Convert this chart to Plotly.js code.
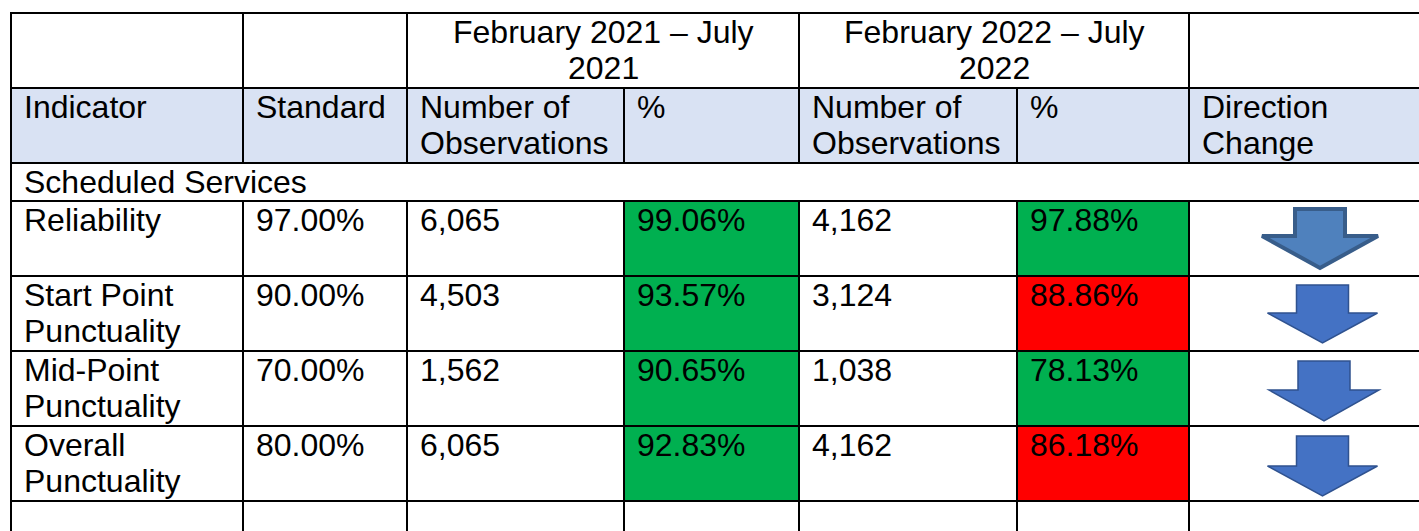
<!DOCTYPE html>
<html><head><meta charset="utf-8">
<script src="https://cdn.plot.ly/plotly-3.0.1.min.js"></script>
<style>html,body{margin:0;padding:0;background:#fff;overflow:hidden}</style>
</head><body><div id="chart" style="width:1419px;height:531px"></div>
<script>
// ---------------- data ----------------
const periodLabels = ["February 2021 – July<br>2021", "February 2022 – July<br>2022"];
const columnHeaders = ["Indicator", "Standard", "Number of<br>Observations", "%", "Number of<br>Observations", "%", "Direction<br>Change"];
const sectionLabel = "Scheduled Services";
const indicators = ["Reliability", "Start Point<br>Punctuality", "Mid-Point<br>Punctuality", "Overall<br>Punctuality"];
const standards = [97.00, 90.00, 70.00, 80.00];
const observations2021 = [6065, 4503, 1562, 6065];
const percent2021 = [99.06, 93.57, 90.65, 92.83];
const observations2022 = [4162, 3124, 1038, 4162];
const percent2022 = [97.88, 88.86, 78.13, 86.18];
// RAG status shown in the source (true = green, false = red)
const status2021 = [true, true, true, true];
const status2022 = [true, false, true, false];

// ---------------- layout / style ----------------
const W = 1419, H = 531;
const colEdges = [11, 243, 407, 624, 799, 1017, 1189, 1440];
const rowEdges = [13, 88, 163, 201, 276, 351, 426, 501, 560];
const FONT = {family: "Liberation Sans, Arial, sans-serif", size: 32, color: "#000000"};
const LINE_GAP = 36, BASELINE = 30.5, PADX = 13, BASE_TO_MID = 11.1;
const GREEN = "#00B050", RED = "#FF0000", HEADFILL = "#D9E2F3";
const GRID = {color: "#000000", width: 2};
const arrowStyles = [
  {fill: "#4F81BD", line: "#385D8A", lw: 4, top: 8, head: 35, tip: 67, shaft: 25, half: 58, cx: 1320},
  {fill: "#4472C4", line: "#2F528F", lw: 1.5, top: 9, head: 37, tip: 67, shaft: 26, half: 55, cx: 1322.5},
  {fill: "#4472C4", line: "#2F528F", lw: 1.5, top: 10, head: 39, tip: 70, shaft: 26, half: 55, cx: 1324},
  {fill: "#4472C4", line: "#2F528F", lw: 1.5, top: 10, head: 40, tip: 70, shaft: 26, half: 55, cx: 1322.5}
];

const fmtPct = v => v.toFixed(2) + "%";
const fmtNum = v => v.toLocaleString("en-US");

// table structure
const rows = [];
rows.push([{span: 1, text: ""}, {span: 1, text: ""},
  {span: 2, text: periodLabels[0], align: "center"},
  {span: 2, text: periodLabels[1], align: "center"},
  {span: 1, text: ""}]);
rows.push(columnHeaders.map(t => ({span: 1, text: t, fill: HEADFILL})));
rows.push([{span: 7, text: sectionLabel}]);
indicators.forEach((ind, i) => {
  rows.push([
    {span: 1, text: ind},
    {span: 1, text: fmtPct(standards[i])},
    {span: 1, text: fmtNum(observations2021[i])},
    {span: 1, text: fmtPct(percent2021[i]), fill: status2021[i] ? GREEN : RED},
    {span: 1, text: fmtNum(observations2022[i])},
    {span: 1, text: fmtPct(percent2022[i]), fill: status2022[i] ? GREEN : RED},
    {span: 1, text: "", arrow: percent2022[i] < percent2021[i] ? "down" : "up", ai: i}
  ]);
});
rows.push([1,1,1,1,1,1,1].map(s => ({span: s, text: ""})));

const fills = [], lines = [], arrows = [], annotations = [];
rows.forEach((row, r) => {
  const y0 = rowEdges[r], y1 = rowEdges[r + 1];
  let c = 0;
  row.forEach(cell => {
    const x0 = colEdges[c], x1 = colEdges[c + cell.span];
    if (cell.fill) fills.push({type: "rect", xref: "x", yref: "y", x0: x0, x1: x1, y0: y0, y1: y1,
      fillcolor: cell.fill, line: {width: 0}, layer: "below"});
    lines.push({type: "line", xref: "x", yref: "y", x0: x0, x1: x0, y0: y0, y1: y1, line: GRID});
    if (cell.text) {
      cell.text.split("<br>").forEach((t, k) => {
        const base = y0 + BASELINE + k * LINE_GAP;
        annotations.push({
          xref: "x", yref: "y", showarrow: false, text: t, font: FONT,
          x: cell.align === "center" ? (x0 + x1) / 2 : x0 + PADX,
          xanchor: cell.align === "center" ? "center" : "left",
          y: base - BASE_TO_MID, yanchor: "middle", borderpad: 0, borderwidth: 0
        });
      });
    }
    if (cell.arrow) {
      const s = arrowStyles[cell.ai];
      const cx = s.cx;
      let top = y0 + s.top, head = y0 + s.head, tip = y0 + s.tip;
      if (cell.arrow === "up") { const t2 = y0 + y1 - tip, h2 = y0 + y1 - head, tp2 = y0 + y1 - top; tip = t2; head = h2; top = tp2; }
      const p = `M${cx - s.shaft},${top} L${cx + s.shaft},${top} L${cx + s.shaft},${head} L${cx + s.half},${head} L${cx},${tip} L${cx - s.half},${head} L${cx - s.shaft},${head} Z`;
      arrows.push({type: "path", xref: "x", yref: "y", path: p, fillcolor: s.fill,
        line: {color: s.line, width: s.lw}});
    }
    c += cell.span;
  });
});
rowEdges.slice(0, rowEdges.length - 1).forEach(y => {
  lines.push({type: "line", xref: "x", yref: "y", x0: colEdges[0] - 1, x1: colEdges[colEdges.length - 1], y0: y, y1: y, line: GRID});
});

const layout = {
  width: W, height: H, margin: {l: 0, r: 0, t: 0, b: 0, pad: 0},
  paper_bgcolor: "#ffffff", plot_bgcolor: "#ffffff", showlegend: false,
  xaxis: {range: [0, W], visible: false, fixedrange: true},
  yaxis: {range: [H, 0], visible: false, fixedrange: true},
  shapes: fills.concat(lines).concat(arrows),
  annotations: annotations
};
Plotly.newPlot("chart", [{type: "scatter", x: [], y: [], hoverinfo: "skip"}], layout,
  {displayModeBar: false, staticPlot: true});
</script></body></html>
